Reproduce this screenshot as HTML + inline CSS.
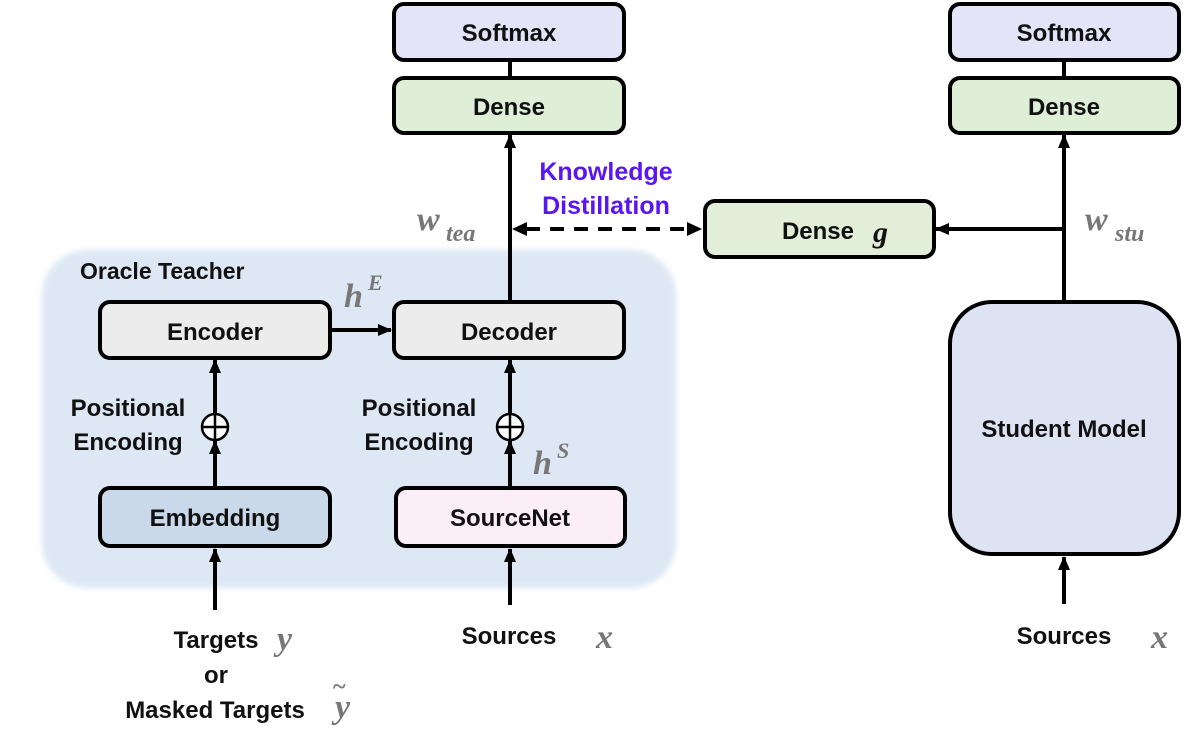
<!DOCTYPE html>
<html><head><meta charset="utf-8"><style>
html,body{margin:0;padding:0;background:#fff;}
svg{display:block;}
.t{font-family:"Liberation Sans","Noto Sans CJK KR",sans-serif;font-weight:bold;font-size:24px;fill:#111;}
.m{font-family:"Liberation Serif",serif;font-weight:bold;font-style:italic;fill:#777;}
.box{stroke:#000;stroke-width:4;}
</style></head><body>
<svg width="1193" height="744" viewBox="0 0 1193 744" xmlns="http://www.w3.org/2000/svg">
<defs>
<marker id="ah" markerWidth="10" markerHeight="10" refX="9" refY="5" orient="auto" markerUnits="userSpaceOnUse">
<path d="M0,0 L10,5 L0,10 z" fill="#000"/>
</marker>
<marker id="ah2" viewBox="0 0 14 14" markerWidth="14" markerHeight="14" refX="13" refY="7" orient="auto" markerUnits="userSpaceOnUse">
<path d="M0,1 L14,7 L0,13 z" fill="#000"/>
</marker>
<filter id="blur"><feGaussianBlur stdDeviation="3"/></filter>
</defs>
<!-- panel -->
<rect x="42" y="250" width="634" height="338" rx="45" fill="#dde8f4" filter="url(#blur)"/>
<text class="t" x="80" y="279" style="font-size:23px">Oracle Teacher</text>

<!-- lines -->
<g stroke="#000" stroke-width="4" fill="none">
<line x1="510" y1="60" x2="510" y2="77"/>
<line x1="1064" y1="60" x2="1064" y2="77"/>
<line x1="510" y1="301" x2="510" y2="135" marker-end="url(#ah2)"/>
<line x1="1064" y1="301" x2="1064" y2="135" marker-end="url(#ah2)"/>
<line x1="1064" y1="229" x2="936" y2="229" marker-end="url(#ah2)"/>
<line x1="330" y1="330" x2="391" y2="330" marker-end="url(#ah2)"/>
<line x1="215" y1="487" x2="215" y2="441" marker-end="url(#ah2)"/>
<line x1="215" y1="414" x2="215" y2="360" marker-end="url(#ah2)"/>
<line x1="510" y1="487" x2="510" y2="441" marker-end="url(#ah2)"/>
<line x1="510" y1="414" x2="510" y2="360" marker-end="url(#ah2)"/>
<line x1="215" y1="610" x2="215" y2="549" marker-end="url(#ah2)"/>
<line x1="510" y1="605" x2="510" y2="549" marker-end="url(#ah2)"/>
<line x1="1064" y1="604" x2="1064" y2="557" marker-end="url(#ah2)"/>
<line x1="526" y1="229" x2="688" y2="229" stroke-dasharray="14,10"/>
</g>
<path d="M512,229 L527,222 L527,236 z" fill="#000"/>
<path d="M702,229 L687,222 L687,236 z" fill="#000"/>

<!-- circles -->
<g stroke="#000" stroke-width="2.5" fill="#fff">
<circle cx="215" cy="427" r="13"/>
<circle cx="510" cy="427" r="13"/>
</g>
<g stroke="#000" stroke-width="2.5">
<line x1="202" y1="427" x2="228" y2="427"/><line x1="215" y1="414" x2="215" y2="440"/>
<line x1="497" y1="427" x2="523" y2="427"/><line x1="510" y1="414" x2="510" y2="440"/>
</g>

<!-- boxes -->
<rect class="box" x="394" y="4" width="230" height="56" rx="10" fill="#e5e3f7"/>
<rect class="box" x="394" y="78" width="230" height="55" rx="10" fill="#dfeed7"/>
<rect class="box" x="950" y="4" width="229" height="56" rx="10" fill="#e5e3f7"/>
<rect class="box" x="950" y="78" width="229" height="55" rx="10" fill="#dfeed7"/>
<rect class="box" x="705" y="201" width="229" height="56" rx="10" fill="#e2eed8"/>
<rect class="box" x="100" y="302" width="230" height="56" rx="10" fill="#ececec"/>
<rect class="box" x="394" y="302" width="230" height="56" rx="10" fill="#ececec"/>
<rect class="box" x="100" y="488" width="230" height="58" rx="10" fill="#c9d9ea"/>
<rect class="box" x="396" y="488" width="229" height="58" rx="10" fill="#fbeef6"/>
<rect class="box" x="950" y="302" width="229" height="252" rx="42" fill="#dde3f3"/>

<!-- labels -->
<g class="t" text-anchor="middle">
<text x="509" y="41">Softmax</text>
<text x="509" y="115">Dense</text>
<text x="1064" y="41">Softmax</text>
<text x="1064" y="115">Dense</text>
<text x="818" y="239">Dense</text>
<text x="215" y="340">Encoder</text>
<text x="509" y="340">Decoder</text>
<text x="215" y="526">Embedding</text>
<text x="510" y="526">SourceNet</text>
<text x="1064" y="437">Student Model</text>
<text x="128" y="416">Positional</text>
<text x="128" y="450">Encoding</text>
<text x="419" y="416">Positional</text>
<text x="419" y="450">Encoding</text>
<text x="216" y="648">Targets</text>
<text x="216" y="683">or</text>
<text x="215" y="718">Masked Targets</text>
<text x="509" y="644">Sources</text>
<text x="1064" y="644">Sources</text>
</g>
<text class="t" x="606" y="180" text-anchor="middle" style="fill:#5a16f0;font-size:25px">Knowledge</text>
<text class="t" x="606" y="214" text-anchor="middle" style="fill:#5a16f0;font-size:25px">Distillation</text>

<!-- math -->
<text class="m" x="873" y="242" style="font-size:30px;fill:#111">g</text>
<text class="m" x="417" y="230" style="font-size:34px">w</text>
<text class="m" x="446" y="241" style="font-size:24px">tea</text>
<text class="m" x="1085" y="230" style="font-size:34px">w</text>
<text class="m" x="1115" y="241" style="font-size:24px">stu</text>
<text class="m" x="344" y="307" style="font-size:34px">h</text>
<text class="m" x="368" y="290" style="font-size:22px">E</text>
<text class="m" x="533" y="474" style="font-size:34px">h</text>
<text class="m" x="557" y="458" style="font-size:22px">S</text>
<text class="m" x="277" y="650" style="font-size:34px">y</text>
<text class="m" x="335" y="718" style="font-size:34px">y</text>
<text class="m" x="333" y="694" style="font-size:24px;font-style:normal">~</text>
<text class="m" x="596" y="648" style="font-size:34px">x</text>
<text class="m" x="1151" y="648" style="font-size:34px">x</text>
</svg>
</body></html>
